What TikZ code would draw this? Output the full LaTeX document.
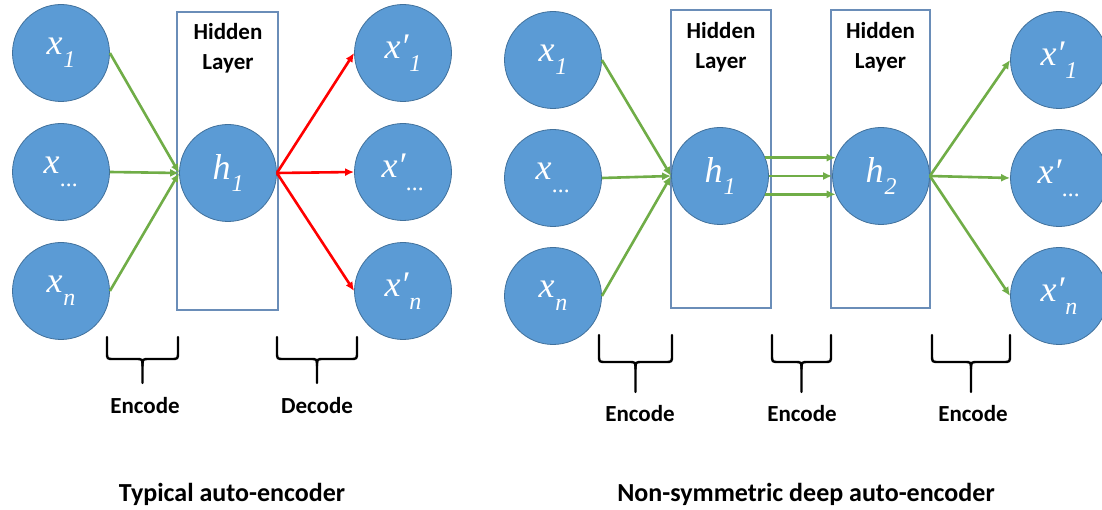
\documentclass[tikz,border=0pt]{standalone}
\usepackage{fontspec}
\setmainfont{Carlito}
\newfontfamily\labelfont{Liberation Serif}
\usetikzlibrary{arrows.meta}
\definecolor{nodeblue}{HTML}{5B9BD5}
\definecolor{nodeedge}{HTML}{41719C}
\definecolor{boxedge}{HTML}{6A8DB8}
\definecolor{arrowgreen}{HTML}{70AD47}
\definecolor{arrowred}{HTML}{FF0000}
\newcommand{\LabSub}[2]{#1\kern1pt\raisebox{-0.36em}{\fontsize{24}{24}\selectfont #2}}
\newcommand{\BraceShape}[5]{%
  \draw[bracepath] (#1,#3) -- (#1,#4-7) .. controls (#1,#4) .. (#1+7,#4) -- ({(#1+#2)/2-7},#4) .. controls ({(#1+#2)/2},#4) .. ({(#1+#2)/2},#4+7) -- ({(#1+#2)/2},#5);
  \draw[bracepath] (#2,#3) -- (#2,#4-7) .. controls (#2,#4) .. (#2-7,#4) -- ({(#1+#2)/2+7},#4) .. controls ({(#1+#2)/2},#4) .. ({(#1+#2)/2},#4+7);
}
\begin{document}
\begin{tikzpicture}[x=1pt,y=-1pt,
  neuron/.style={circle, fill=nodeblue, draw=nodeedge, line width=0.8pt, minimum size=97pt, inner sep=0pt, text=white, font=\labelfont\itshape\fontsize{36}{36}\selectfont},
  layerbox/.style={draw=boxedge, line width=1.6pt, inner sep=0pt},
  garrow/.style={draw=arrowgreen, line width=2.6pt, -{Latex[length=9pt,width=8pt]}},
  rarrow/.style={draw=arrowred, line width=2.6pt, -{Latex[length=9pt,width=8pt]}},
  lbl/.style={font=\fontsize{23}{30}\selectfont\bfseries, align=center, text=black, inner sep=0pt},
  title/.style={font=\fontsize{26}{30}\selectfont\bfseries, text=black, inner sep=0pt},
  bracepath/.style={draw=black, line width=2.4pt, line cap=round, line join=round}
]
\fill[white] (0,0) rectangle (1102,510);
\clip (0,0) rectangle (1102,510);

% ---------- Left: typical auto-encoder ----------
\node[layerbox, minimum width=101pt, minimum height=298pt] (LboxA) at (227.5,161) {};
\node[lbl] (LhidA) at (228,48) {Hidden\\Layer};

\node[neuron] (Lx1) at (61,53) {\LabSub{x}{1}};
\node[neuron] (Lxm) at (61,172) {\LabSub{x}{...}};
\node[neuron] (Lxn) at (61,291) {\LabSub{x}{n}};
\node[neuron] (Lh1) at (228,173) {\LabSub{h}{1}};
\node[neuron] (Lo1) at (403,53) {\LabSub{x′}{1}};
\node[neuron] (Lom) at (403,172) {\LabSub{x′}{...}};
\node[neuron] (Lon) at (403,291) {\LabSub{x′}{n}};

\draw[garrow] (Lx1.east) -- (Lh1.west);
\draw[garrow] (Lxm.east) -- (Lh1.west);
\draw[garrow] (Lxn.east) -- (Lh1.west);
\draw[rarrow] (Lh1.east) -- (Lo1.west);
\draw[rarrow] (Lh1.east) -- (Lom.west);
\draw[rarrow] (Lh1.east) -- (Lon.west);

\BraceShape{107}{178}{337}{359}{383}
\BraceShape{277}{357}{337}{359}{383}
\node[lbl] (Lenc) at (145,406) {Encode};
\node[lbl] (Ldec) at (317,406) {Decode};
\node[title] (Ltitle) at (232,494) {Typical auto-encoder};

% ---------- Right: non-symmetric deep auto-encoder ----------
\node[layerbox, minimum width=100pt, minimum height=298pt] (RboxA) at (721,159) {};
\node[layerbox, minimum width=99pt, minimum height=298pt] (RboxB) at (880.5,159) {};
\node[lbl] (RhidA) at (721,47) {Hidden\\Layer};
\node[lbl] (RhidB) at (880.5,47) {Hidden\\Layer};

\node[neuron] (Rx1) at (553,60) {\LabSub{x}{1}};
\node[neuron] (Rxm) at (553,178) {\LabSub{x}{...}};
\node[neuron] (Rxn) at (553,296) {\LabSub{x}{n}};
\node[neuron] (Rh1) at (720,176) {\LabSub{h}{1}};
\node[neuron] (Rh2) at (881,176) {\LabSub{h}{2}};
\node[neuron] (Ro1) at (1059,60) {\LabSub{x′}{1}};
\node[neuron] (Rom) at (1059,178) {\LabSub{x′}{...}};
\node[neuron] (Ron) at (1059,296) {\LabSub{x′}{n}};

\draw[garrow] (Rx1.east) -- (Rh1.west);
\draw[garrow] (Rxm.east) -- (Rh1.west);
\draw[garrow] (Rxn.east) -- (Rh1.west);
\draw[garrow] (Rh1.22) -- (Rh2.158);
\draw[garrow] (Rh1.east) -- (Rh2.west);
\draw[garrow] (Rh1.-22) -- (Rh2.-158);
\draw[garrow] (Rh2.east) -- (Ro1.west);
\draw[garrow] (Rh2.east) -- (Rom.west);
\draw[garrow] (Rh2.east) -- (Ron.west);

\BraceShape{599}{672}{335}{362}{392}
\BraceShape{772}{831}{335}{362}{392}
\BraceShape{932}{1010}{335}{362}{392}
\node[lbl] (Renc1) at (640,414) {Encode};
\node[lbl] (Renc2) at (802,414) {Encode};
\node[lbl] (Renc3) at (973,414) {Encode};
\node[title] (Rtitle) at (806,494) {Non-symmetric deep auto-encoder};
\end{tikzpicture}
\end{document}
